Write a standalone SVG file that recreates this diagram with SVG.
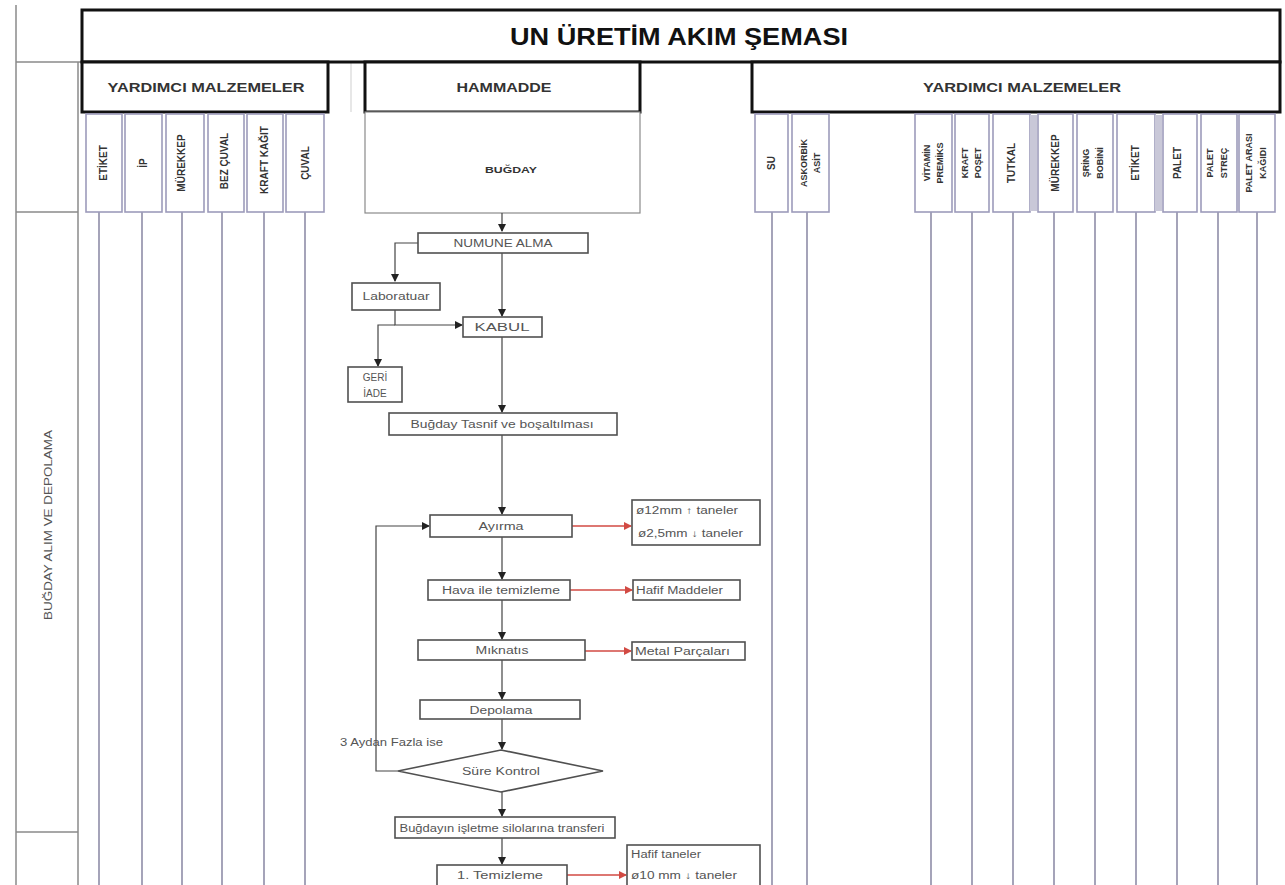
<svg xmlns="http://www.w3.org/2000/svg" width="1285" height="885" viewBox="0 0 1285 885">
<defs>
<style>
.frame{stroke:#8a8a8a;stroke-width:1.5;fill:none}
.hdr{fill:#fff;stroke:#111;stroke-width:3}
.cell{fill:#fff;stroke:#9d9bbb;stroke-width:1.6}
.band{fill:#c9c8d8;stroke:none}
.lane{stroke:#8f8da8;stroke-width:1.6;fill:none}
.box{fill:#fff;stroke:#505050;stroke-width:1.6}
.t{font-family:"Liberation Sans",Arial,sans-serif}
.title{font-size:24px;font-weight:bold;fill:#111}
.sub{font-size:12px;font-weight:bold;fill:#333}
.col{font-size:10px;font-weight:bold;fill:#333}
.col2{font-size:9px;font-weight:bold;fill:#333}
.ft{font-size:10px;fill:#555}
.con{stroke:#444;stroke-width:1.2;fill:none}
.red{stroke:#d24a43;stroke-width:1.3;fill:none}
</style>
<marker id="ah" markerWidth="8" markerHeight="8" refX="7" refY="4" orient="auto" markerUnits="userSpaceOnUse">
<path d="M0,0 L8,4 L0,8 z" fill="#222"/>
</marker>
<marker id="ahr" markerWidth="8" markerHeight="8" refX="7" refY="4" orient="auto" markerUnits="userSpaceOnUse">
<path d="M0,0 L8,4 L0,8 z" fill="#d24a43"/>
</marker>
</defs>
<rect width="1285" height="885" fill="#fff"/>

<g id="frame">
<line class="frame" x1="16" y1="5" x2="16" y2="885"/>
<line class="frame" x1="78" y1="62" x2="78" y2="885"/>
<line class="frame" x1="16" y1="62" x2="82" y2="62"/>
<line class="frame" x1="16" y1="212" x2="78" y2="212"/>
<line class="frame" x1="16" y1="832" x2="78" y2="832"/>
<line x1="351" y1="62" x2="351" y2="112" stroke="#cfcfcf" stroke-width="1"/>
<text class="t" x="52" y="525" font-size="10" fill="#555" text-anchor="middle" textLength="190" lengthAdjust="spacingAndGlyphs" transform="rotate(-90 52 525)">BUĞDAY ALIM VE DEPOLAMA</text>
</g>

<g id="title">
<rect class="hdr" x="82" y="10" width="1198" height="52"/>
<text class="t title" x="679" y="45" text-anchor="middle" textLength="338" lengthAdjust="spacingAndGlyphs">UN ÜRETİM AKIM ŞEMASI</text>
</g>

<g id="yardimci-left">
<rect class="hdr" x="82" y="62" width="246" height="50"/>
<text class="t sub" x="206" y="92" text-anchor="middle" textLength="197" lengthAdjust="spacingAndGlyphs">YARDIMCI MALZEMELER</text>
</g>
<g id="hammadde">
<rect class="hdr" x="365" y="62" width="275" height="50"/>
<text class="t sub" x="504" y="92" text-anchor="middle" textLength="95" lengthAdjust="spacingAndGlyphs">HAMMADDE</text>
</g>
<g id="yardimci-right">
<rect class="hdr" x="752" y="62" width="528" height="50"/>
<text class="t sub" x="1022" y="92" text-anchor="middle" textLength="198" lengthAdjust="spacingAndGlyphs">YARDIMCI MALZEMELER</text>
</g>

<g id="lanes">
<line class="lane" x1="99" y1="212" x2="99" y2="885"/>
<line class="lane" x1="142" y1="212" x2="142" y2="885"/>
<line class="lane" x1="182" y1="212" x2="182" y2="885"/>
<line class="lane" x1="222" y1="212" x2="222" y2="885"/>
<line class="lane" x1="264" y1="212" x2="264" y2="885"/>
<line class="lane" x1="305" y1="212" x2="305" y2="885"/>
<line class="lane" x1="772" y1="212" x2="772" y2="885"/>
<line class="lane" x1="807" y1="212" x2="807" y2="885"/>
<line class="lane" x1="931" y1="212" x2="931" y2="885"/>
<line class="lane" x1="972" y1="212" x2="972" y2="885"/>
<line class="lane" x1="1013" y1="212" x2="1013" y2="885"/>
<line class="lane" x1="1054" y1="212" x2="1054" y2="885"/>
<line class="lane" x1="1095" y1="212" x2="1095" y2="885"/>
<line class="lane" x1="1136" y1="212" x2="1136" y2="885"/>
<line class="lane" x1="1177" y1="212" x2="1177" y2="885"/>
<line class="lane" x1="1218" y1="212" x2="1218" y2="885"/>
<line class="lane" x1="1257" y1="212" x2="1257" y2="885"/>
</g>

<g id="col-etiket-l"><rect class="cell" x="86" y="114" width="36" height="98"/><text class="t col" x="107" y="163" text-anchor="middle" transform="rotate(-90 107 163)">ETİKET</text></g>
<g id="col-ip"><rect class="cell" x="125" y="114" width="37" height="98"/><text class="t col" x="147" y="163" text-anchor="middle" transform="rotate(-90 147 163)">İP</text></g>
<g id="col-murekkep-l"><rect class="cell" x="166" y="114" width="38" height="98"/><text class="t col" x="185" y="163" text-anchor="middle" transform="rotate(-90 185 163)">MÜREKKEP</text></g>
<g id="col-bez"><rect class="cell" x="208" y="114" width="36" height="98"/><text class="t col" x="228" y="161" text-anchor="middle" transform="rotate(-90 228 161)">BEZ ÇUVAL</text></g>
<g id="col-kraft"><rect class="cell" x="247" y="114" width="36" height="98"/><text class="t col" x="268" y="160" text-anchor="middle" transform="rotate(-90 268 160)">KRAFT KAĞIT</text></g>
<g id="col-cuval"><rect class="cell" x="286" y="114" width="38" height="98"/><text class="t col" x="309" y="163" text-anchor="middle" transform="rotate(-90 309 163)">ÇUVAL</text></g>

<g id="col-bugday"><rect x="365" y="112" width="275" height="101" fill="#fff" stroke="#8a8a8a" stroke-width="1.2"/><text class="t" x="511" y="173" font-size="9" font-weight="bold" fill="#333" text-anchor="middle" textLength="52" lengthAdjust="spacingAndGlyphs">BUĞDAY</text></g>

<g id="col-su"><rect class="cell" x="755" y="114" width="33" height="98"/><text class="t col" x="775" y="163" text-anchor="middle" transform="rotate(-90 775 163)">SU</text></g>
<g id="col-askorbik"><rect class="cell" x="792" y="114" width="37" height="98"/><text class="t col2" x="807" y="163" text-anchor="middle" transform="rotate(-90 807 163)">ASKORBİK</text><text class="t col2" x="820" y="163" text-anchor="middle" transform="rotate(-90 820 163)">ASİT</text></g>
<g id="col-vitamin"><rect class="cell" x="915" y="114" width="37" height="98"/><text class="t col2" x="930" y="163" text-anchor="middle" transform="rotate(-90 930 163)">VİTAMİN</text><text class="t col2" x="943" y="163" text-anchor="middle" transform="rotate(-90 943 163)">PREMİKS</text></g>
<g id="col-kraftposet"><rect class="cell" x="955" y="114" width="34" height="98"/><text class="t col2" x="968" y="163" text-anchor="middle" transform="rotate(-90 968 163)">KRAFT</text><text class="t col2" x="981" y="163" text-anchor="middle" transform="rotate(-90 981 163)">POŞET</text></g>
<g id="col-tutkal"><rect class="cell" x="993" y="114" width="37" height="98"/><rect class="band" x="1030" y="115" width="7" height="96"/><text class="t col" x="1015" y="163" text-anchor="middle" transform="rotate(-90 1015 163)">TUTKAL</text></g>
<g id="col-murekkep-r"><rect class="cell" x="1038" y="114" width="35" height="98"/><text class="t col" x="1059" y="163" text-anchor="middle" transform="rotate(-90 1059 163)">MÜREKKEP</text></g>
<g id="col-sring"><rect class="cell" x="1077" y="114" width="36" height="98"/><text class="t col2" x="1089" y="163" text-anchor="middle" transform="rotate(-90 1089 163)">ŞRİNG</text><text class="t col2" x="1103" y="163" text-anchor="middle" transform="rotate(-90 1103 163)">BOBİNİ</text></g>
<g id="col-etiket-r"><rect class="cell" x="1117" y="114" width="38" height="98"/><rect class="band" x="1155" y="115" width="7" height="96"/><text class="t col" x="1139" y="163" text-anchor="middle" transform="rotate(-90 1139 163)">ETİKET</text></g>
<g id="col-palet"><rect class="cell" x="1163" y="114" width="34" height="98"/><text class="t col" x="1181" y="163" text-anchor="middle" transform="rotate(-90 1181 163)">PALET</text></g>
<g id="col-paletstrec"><rect class="cell" x="1201" y="114" width="36" height="98"/><text class="t col2" x="1213" y="163" text-anchor="middle" transform="rotate(-90 1213 163)">PALET</text><text class="t col2" x="1227" y="163" text-anchor="middle" transform="rotate(-90 1227 163)">STREÇ</text></g>
<g id="col-paletarasi"><rect class="cell" x="1239" y="114" width="36" height="98"/><text class="t col2" x="1252" y="163" text-anchor="middle" transform="rotate(-90 1252 163)">PALET ARASI</text><text class="t col2" x="1266" y="163" text-anchor="middle" transform="rotate(-90 1266 163)">KAĞIDI</text></g>

<g id="connectors">
<path class="con" d="M502,213 V231" marker-end="url(#ah)"/>
<path class="con" d="M418,243 H395 V281" marker-end="url(#ah)"/>
<path class="con" d="M502,253 V316" marker-end="url(#ah)"/>
<path class="con" d="M395,310 V325 H462" marker-end="url(#ah)"/>
<path class="con" d="M395,325 H378 V366" marker-end="url(#ah)"/>
<path class="con" d="M502,337 V412" marker-end="url(#ah)"/>
<path class="con" d="M502,435 V514" marker-end="url(#ah)"/>
<path class="con" d="M502,537 V579" marker-end="url(#ah)"/>
<path class="con" d="M502,600 V639" marker-end="url(#ah)"/>
<path class="con" d="M502,660 V699" marker-end="url(#ah)"/>
<path class="con" d="M502,719 V749" marker-end="url(#ah)"/>
<path class="con" d="M502,792 V816" marker-end="url(#ah)"/>
<path class="con" d="M502,838 V864" marker-end="url(#ah)"/>
<path class="con" d="M398,771 H376 V526 H429" marker-end="url(#ah)"/>
<path class="red" d="M572,526 H631" marker-end="url(#ahr)"/>
<path class="red" d="M570,590 H632" marker-end="url(#ahr)"/>
<path class="red" d="M585,651 H631" marker-end="url(#ahr)"/>
<path class="red" d="M567,875 H626" marker-end="url(#ahr)"/>
</g>

<g id="n-numune"><rect class="box" x="418" y="233" width="170" height="20"/><text class="t ft" x="503" y="247" text-anchor="middle" textLength="99" lengthAdjust="spacingAndGlyphs">NUMUNE ALMA</text></g>
<g id="n-lab"><rect class="box" x="352" y="283" width="88" height="27"/><text class="t ft" x="396" y="300" text-anchor="middle" textLength="67" lengthAdjust="spacingAndGlyphs">Laboratuar</text></g>
<g id="n-kabul"><rect class="box" x="463" y="317" width="79" height="20"/><text class="t ft" x="502" y="331" text-anchor="middle" textLength="55" lengthAdjust="spacingAndGlyphs">KABUL</text></g>
<g id="n-geri"><rect class="box" x="348" y="367" width="54" height="35"/><text class="t ft" x="375" y="381" text-anchor="middle">GERİ</text><text class="t ft" x="375" y="397" text-anchor="middle">İADE</text></g>
<g id="n-tasnif"><rect class="box" x="389" y="413" width="228" height="22"/><text class="t ft" x="502" y="428" text-anchor="middle" textLength="183" lengthAdjust="spacingAndGlyphs">Buğday Tasnif ve boşaltılması</text></g>
<g id="n-ayirma"><rect class="box" x="430" y="515" width="142" height="22"/><text class="t ft" x="501" y="530" text-anchor="middle" textLength="45" lengthAdjust="spacingAndGlyphs">Ayırma</text></g>
<g id="n-taneler1"><rect class="box" x="632" y="500" width="128" height="45"/><text class="t ft" x="636" y="514" textLength="102" lengthAdjust="spacingAndGlyphs">ø12mm ↑ taneler</text><text class="t ft" x="638" y="537" textLength="105" lengthAdjust="spacingAndGlyphs">ø2,5mm ↓ taneler</text></g>
<g id="n-hava"><rect class="box" x="428" y="580" width="142" height="20"/><text class="t ft" x="501" y="594" text-anchor="middle" textLength="118" lengthAdjust="spacingAndGlyphs">Hava ile temizleme</text></g>
<g id="n-hafif"><rect class="box" x="633" y="580" width="107" height="20"/><text class="t ft" x="636" y="594" textLength="87" lengthAdjust="spacingAndGlyphs">Hafif Maddeler</text></g>
<g id="n-miknatis"><rect class="box" x="418" y="640" width="167" height="20"/><text class="t ft" x="502" y="654" text-anchor="middle" textLength="53" lengthAdjust="spacingAndGlyphs">Mıknatıs</text></g>
<g id="n-metal"><rect class="box" x="632" y="642" width="113" height="18"/><text class="t ft" x="635" y="655" textLength="95" lengthAdjust="spacingAndGlyphs">Metal Parçaları</text></g>
<g id="n-depolama"><rect class="box" x="420" y="700" width="160" height="19"/><text class="t ft" x="501" y="714" text-anchor="middle" textLength="63" lengthAdjust="spacingAndGlyphs">Depolama</text></g>
<g id="n-sure"><path class="box" d="M398,771 L501,750 L603,771 L501,792 Z"/><text class="t ft" x="501" y="775" text-anchor="middle" textLength="78" lengthAdjust="spacingAndGlyphs">Süre Kontrol</text></g>
<g id="l-aydan"><text class="t ft" x="340" y="746" textLength="103" lengthAdjust="spacingAndGlyphs">3 Aydan Fazla ise</text></g>
<g id="n-transfer"><rect class="box" x="395" y="817" width="220" height="21"/><text class="t ft" x="502" y="832" text-anchor="middle" textLength="205" lengthAdjust="spacingAndGlyphs">Buğdayın işletme silolarına transferi</text></g>
<g id="n-temizleme"><rect class="box" x="437" y="865" width="130" height="24"/><text class="t ft" x="500" y="879" text-anchor="middle" textLength="86" lengthAdjust="spacingAndGlyphs">1. Temizleme</text></g>
<g id="n-taneler2"><rect class="box" x="627" y="845" width="133" height="45"/><text class="t ft" x="631" y="858" textLength="70" lengthAdjust="spacingAndGlyphs">Hafif taneler</text><text class="t ft" x="631" y="879" textLength="106" lengthAdjust="spacingAndGlyphs">ø10 mm ↓ taneler</text></g>
</svg>
